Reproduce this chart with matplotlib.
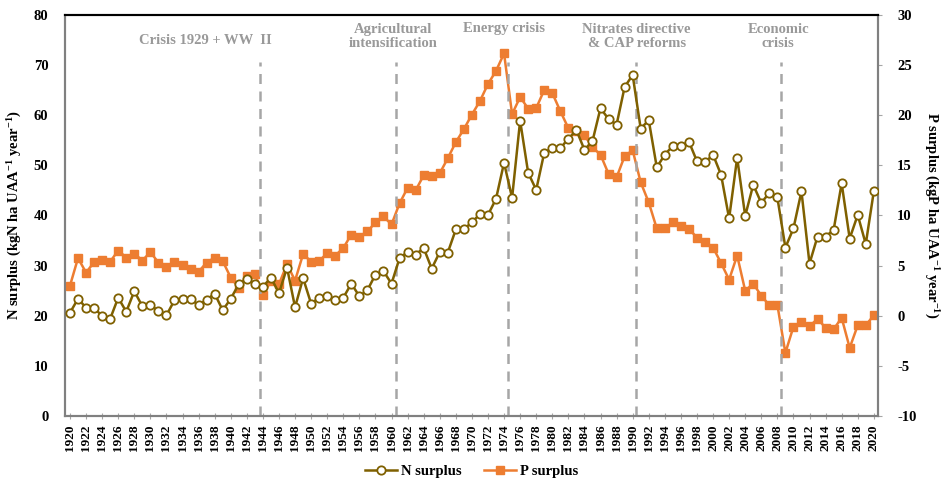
import matplotlib
matplotlib.use("Agg")
import matplotlib.pyplot as plt
import numpy as np

plt.rcParams['font.family'] = ['Liberation Serif', 'DejaVu Serif']
plt.rcParams['font.weight'] = 'bold'
plt.rcParams['mathtext.default'] = 'regular'
plt.rcParams['axes.unicode_minus'] = False

# data
years = np.arange(1920, 2021)

n_surplus = [20.6, 23.4, 21.6, 21.5, 20.0, 19.4, 23.6, 20.8, 24.9, 21.9,
             22.1, 21.0, 20.1, 23.1, 23.3, 23.4, 22.1, 23.2, 24.4, 21.1,
             23.4, 26.3, 27.3, 26.4, 25.8, 27.6, 24.5, 29.6, 21.7, 27.5,
             22.4, 23.6, 23.9, 23.2, 23.6, 26.4, 23.9, 25.1, 28.2, 28.9,
             26.4, 31.5, 32.7, 32.2, 33.5, 29.4, 32.7, 32.6, 37.2, 37.3,
             38.6, 40.3, 40.1, 43.3, 50.5, 43.5, 58.9, 48.5, 45.1, 52.5,
             53.4, 53.4, 55.3, 57.0, 53.1, 54.8, 61.4, 59.2, 58.1, 65.6,
             68.0, 57.3, 59.0, 49.6, 52.1, 53.9, 53.8, 54.7, 50.8, 50.6,
             52.1, 48.1, 39.4, 51.5, 39.9, 46.1, 42.5, 44.5, 43.6, 33.6,
             37.4, 44.8, 30.4, 35.8, 35.8, 37.1, 46.4, 35.4, 40.1, 34.3,
             44.8]

p_surplus = [3.0, 5.75, 4.3, 5.35, 5.6, 5.4, 6.5, 5.8, 6.2, 5.5,
             6.35, 5.3, 4.85, 5.35, 5.1, 4.7, 4.4, 5.3, 5.8, 5.45,
             3.8, 2.8, 4.0, 4.2, 2.1, 3.45, 3.15, 5.15, 3.5, 6.15,
             5.4, 5.45, 6.25, 6.0, 6.75, 8.1, 7.9, 8.4, 9.3, 9.9,
             9.1, 11.2, 12.75, 12.5, 14.0, 13.9, 14.2, 15.7, 17.3, 18.6,
             20.05, 21.4, 23.1, 24.4, 26.15, 20.1, 21.8, 20.65, 20.7, 22.5,
             22.2, 20.4, 18.7, 18.45, 18.0, 16.8, 16.05, 14.15, 13.8, 15.9,
             16.5, 13.3, 11.3, 8.7, 8.7, 9.3, 8.9, 8.65, 7.8, 7.35,
             6.8, 5.25, 3.6, 6.0, 2.5, 3.2, 2.0, 1.05, 1.1, -3.7,
             -1.1, -0.65, -1.05, -0.3, -1.2, -1.35, -0.2, -3.2, -0.95, -0.95,
             0.05]

event_years = [1943.6, 1960.5, 1974.5, 1990.4, 2008.4]
event_labels = ['Crisis 1929 + WW  II', 'Agricultural\nintensification',
                'Energy crisis', 'Nitrates directive\n& CAP reforms',
                'Economic\ncrisis']
label_x = [1936.8, 1960.2, 1974.0, 1990.5, 2008.1]
label_y = [74.9, 75.6, 77.3, 75.6, 75.6]

n_color = '#7F6000'
p_color = '#ED7D31'
grey = '#A6A6A6'
spine_grey = '#808080'

fig = plt.figure(figsize=(9.49, 4.93), dpi=100, facecolor='white')
ax = fig.add_axes([0.0685, 0.156, 0.8565, 0.814])
ax2 = ax.twinx()

ln1, = ax.plot(years, n_surplus, color=n_color, lw=1.8, marker='o', ms=6,
               mfc='white', mec=n_color, mew=1.3, zorder=4, label='N surplus')
ln2, = ax2.plot(years, p_surplus, color=p_color, lw=1.8, marker='s', ms=5.5,
                mfc=p_color, mec=p_color, zorder=3, label='P surplus')
ax.set_zorder(ax2.get_zorder() + 1)
ax.patch.set_visible(False)

# event markers
for x in event_years:
    ax.plot([x, x], [0, 70.5], color=grey, ls=(0, (4, 3)), lw=1.8, zorder=1)
for x, y, t in zip(label_x, label_y, event_labels):
    ax.text(x, y, t, ha='center', va='center', color='#999999',
            fontsize=10.5, fontweight='bold', linespacing=1.1)

ax.set_xlim(1919.38, 2020.5)
ax.set_ylim(0, 80)
ax2.set_ylim(-10, 30)
ax.set_yticks(np.arange(0, 81, 10))
ax2.set_yticks(np.arange(-10, 31, 5))
ax.set_xticks(years[::2])
ax.set_xticklabels([str(y) for y in years[::2]], rotation=90, fontsize=9.5,
                   fontweight='bold')
ax.tick_params(axis='x', direction='inout', length=4, color=grey, pad=4)
ax.tick_params(axis='y', length=0, pad=12, labelsize=10.5)
ax2.tick_params(axis='y', length=3, color=grey, direction='out', pad=11,
                labelsize=10.5)
for lab in ax.get_yticklabels() + ax2.get_yticklabels():
    lab.set_fontweight('bold')

for a in (ax, ax2):
    for side in ('left', 'right', 'bottom'):
        a.spines[side].set_color(spine_grey)
        a.spines[side].set_linewidth(1.5)
    a.spines['top'].set_color('black')
    a.spines['top'].set_linewidth(1.5)

ax.set_ylabel('N surplus (kgN ha UAA$^{-1}$ year$^{-1}$)', fontsize=10.5,
              fontweight='bold', labelpad=7)
ax2.set_ylabel('P surplus (kgP ha UAA$^{-1}$ year$^{-1}$)', fontsize=10.5,
               fontweight='bold', rotation=-90, labelpad=17)

fig.legend(handles=[ln1, ln2], loc='center', bbox_to_anchor=(0.497, 0.043),
           ncol=2, frameon=False, fontsize=10.5, handlelength=2.2,
           columnspacing=1.5, handletextpad=0.3)

fig.savefig('out.png', dpi=100, facecolor='white')
